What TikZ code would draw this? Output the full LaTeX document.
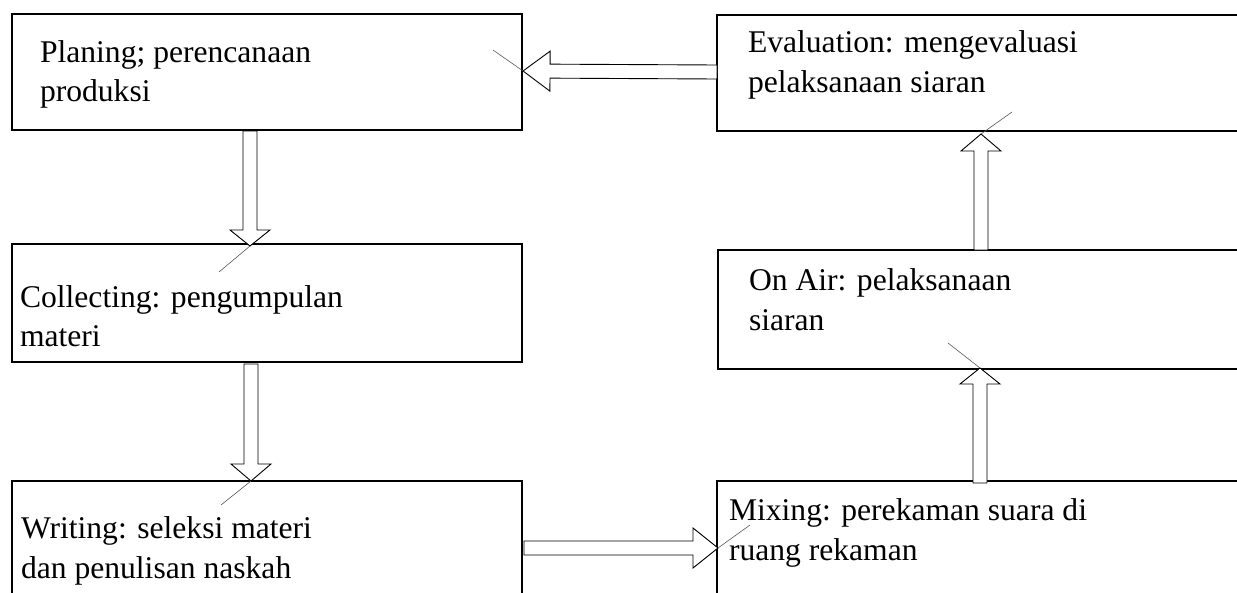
\documentclass[tikz,border=0pt]{standalone}
\usepackage{fontspec}
\setmainfont{Liberation Serif}
\usetikzlibrary{calc}
\tikzset{
  box/.style={draw=black, line width=1.2pt, inner sep=0pt, outer sep=0pt, anchor=north west},
  txt/.style={anchor=base west, inner sep=0pt, outer sep=0pt, font=\fontsize{31.6pt}{38pt}\selectfont},
  blockarr/.style={draw=black, fill=white, line width=0.9pt, line join=miter},
  ghost/.style={draw=black!65, line width=0.6pt}
}
\newcommand\blockarrow[3]{%
  \path let \p1=($(#2)-(#1)$) in \pgfextra{%
    \pgfmathsetmacro\arrlen{veclen(\x1,\y1)}%
    \pgfmathsetmacro\arrang{atan2(\y1,\x1)}%
    \global\let\arrlen\arrlen \global\let\arrang\arrang};
  \draw[blockarr,shift={(#1)},rotate=\arrang]
    (0pt,-7pt) -- ({\arrlen pt-#3},-7pt) -- ({\arrlen pt-#3},-20pt) -- (\arrlen pt,0pt)
    -- ({\arrlen pt-#3},20pt) -- ({\arrlen pt-#3},7pt) -- (0pt,7pt) -- cycle;
}
\begin{document}
\begin{tikzpicture}[x=1pt,y=-1pt]
\useasboundingbox (0,0) rectangle (1237,592);
\clip (0,0) rectangle (1237,592);
\fill[white] (0,0) rectangle (1237,592);
% boxes
\node[box, minimum width=510pt, minimum height=116pt] (plan) at (12,14) {};
\node[box, minimum width=510pt, minimum height=118pt] (coll) at (12,244) {};
\node[box, minimum width=510pt, minimum height=140pt] (writ) at (12,481) {};
\node[box, minimum width=560pt, minimum height=116pt] (eval) at (717,15) {};
\node[box, minimum width=560pt, minimum height=119pt] (onair) at (718,250) {};
\node[box, minimum width=560pt, minimum height=140pt] (mix) at (717,481) {};
% texts
\node[txt] (planA) at (40,62) {Planing; perencanaan};
\node[txt] (planB) at (40,101) {produksi};
\node[txt] (collA) at (20,307) {Collecting: pengumpulan};
\node[txt] (collB) at (20,346) {materi};
\node[txt] (writA) at (21,538) {Writing: seleksi materi};
\node[txt] (writB) at (21,578) {dan penulisan naskah};
\node[txt] (evalA) at (748,52) {Evaluation: mengevaluasi};
\node[txt] (evalB) at (748,92) {pelaksanaan siaran};
\node[txt] (onairA) at (749,290) {On Air: pelaksanaan};
\node[txt] (onairB) at (749,330) {siaran};
\node[txt] (mixA) at (729,520) {Mixing: perekaman suara di};
\node[txt] (mixB) at (729,560) {ruang rekaman};
% connector end points
\coordinate (e1) at ($(eval.north west)+(0,57)$);
\coordinate (e1h) at ($(plan.north east)+(1,57)$);
\coordinate (p1) at ($(plan.south west)+(238,1)$);
\coordinate (p1h) at ($(coll.north west)+(238,2)$);
\coordinate (c1) at ($(coll.south west)+(239,2)$);
\coordinate (c1h) at ($(writ.north west)+(239,0)$);
\coordinate (w1) at ($(writ.north east)+(2,67)$);
\coordinate (w1h) at ($(mix.north west)+(1,67)$);
\coordinate (m1) at ($(mix.north west)+(263,2)$);
\coordinate (m1h) at ($(onair.south west)+(262,-1)$);
\coordinate (o1) at ($(onair.north west)+(263,0)$);
\coordinate (o1h) at ($(eval.south west)+(264,3)$);
% block arrows
\blockarrow{e1}{e1h}{27pt}
\blockarrow{p1}{p1h}{16pt}
\blockarrow{c1}{c1h}{17pt}
\blockarrow{w1}{w1h}{25pt}
\blockarrow{m1}{m1h}{16pt}
\blockarrow{o1}{o1h}{17pt}
% faint diagonal strokes at the tips
\draw[ghost] (e1h) -- ++(-30,-21);
\draw[ghost] (p1h) -- ++(-31,26);
\draw[ghost] (c1h) -- ++(-30,24);
\draw[ghost] (w1h) -- ++(32,-23);
\draw[ghost] (m1h) -- ++(-32,-25);
\draw[ghost] (o1h) -- ++(31,-22);
\end{tikzpicture}
\end{document}
